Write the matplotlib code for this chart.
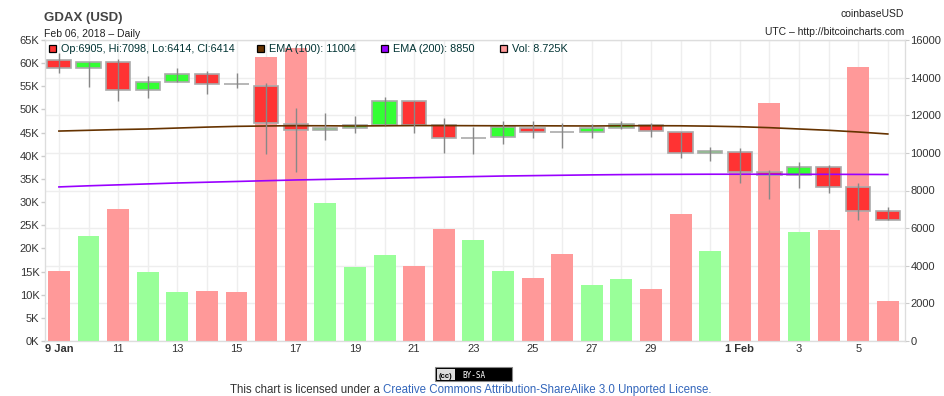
import matplotlib
matplotlib.use("Agg")
import matplotlib.pyplot as plt
from matplotlib.patches import Rectangle
import numpy as np

plt.rcParams['font.family'] = ['Liberation Sans', 'DejaVu Sans']

# ---- data (GDAX BTC/USD daily, 9 Jan - 6 Feb 2018) ----
days = ["9 Jan", "10", "11", "12", "13", "14", "15", "16", "17", "18",
        "19", "20", "21", "22", "23", "24", "25", "26", "27", "28",
        "29", "30", "31", "1 Feb", "2", "3", "4", "5", "6"]
opens = [14940, 14530, 14850, 13330, 13780, 14180, 13660, 13570, 11550, 11200,
         11310, 11500, 12740, 11500, 10800, 10830, 11340, 11100, 11090, 11310,
         11500, 11130, 9980, 10060, 9000, 8825, 9235, 8170, 6905]
highs = [15330, 14850, 14975, 14090, 14530, 14350, 14260, 13700, 12370, 12140,
         11980, 12955, 12760, 11840, 11390, 11710, 11695, 11570, 11520, 11710,
         11605, 11130, 10330, 10245, 9090, 9500, 9355, 8385, 7098]
lows = [14230, 13520, 12775, 12900, 13780, 13115, 13430, 9925, 9000, 10685,
        11040, 11500, 11070, 10010, 9925, 10455, 10810, 10275, 10810, 11255,
        10830, 9710, 9585, 8385, 7535, 8115, 7850, 6430, 6414]
closes = [14530, 14850, 13330, 13780, 14180, 13660, 13640, 11570, 11220, 11310,
          11500, 12740, 11500, 10780, 10815, 11360, 11095, 11090, 11310, 11520,
          11165, 9980, 10085, 9000, 8810, 9235, 8200, 6905, 6414]
volumes = [15.1, 22.7, 28.5, 14.9, 10.6, 10.8, 10.6, 61.3, 63.2, 29.8,
           16.0, 18.6, 16.2, 24.2, 21.8, 15.1, 13.6, 18.8, 12.1, 13.4,
           11.2, 27.4, 19.4, 40.5, 51.3, 23.5, 24.0, 59.2, 8.725]  # thousands
ema100 = [11160, 11200, 11240, 11270, 11320, 11370, 11410, 11430, 11445, 11440,
          11430, 11440, 11450, 11450, 11445, 11440, 11440, 11435, 11430, 11440,
          11445, 11440, 11420, 11390, 11340, 11270, 11200, 11110, 11004]
ema200 = [8190, 8250, 8300, 8350, 8400, 8440, 8480, 8520, 8560, 8590,
          8620, 8650, 8680, 8710, 8740, 8770, 8790, 8810, 8830, 8845,
          8855, 8860, 8865, 8865, 8865, 8860, 8860, 8855, 8850]
labelled = {0: "9 Jan", 2: "11", 4: "13", 6: "15", 8: "17", 10: "19", 12: "21",
            14: "23", 16: "25", 18: "27", 20: "29", 23: "1 Feb", 25: "3", 27: "5"}

W, H = 945, 396
fig = plt.figure(figsize=(W / 100, H / 100), dpi=100)
rect = [45 / W, 55 / H, 860 / W, 301 / H]

x = np.arange(len(days))
up = np.array(closes) >= np.array(opens)

# grid layer (price scale) - also carries the date labels
axg = fig.add_axes(rect)
axg.set_xlim(-0.47, 28.58)
axg.set_ylim(0, 16000)
axg.set_yticks(np.arange(0, 16001, 2000))
axg.set_xticks(x)
axg.set_xticklabels([labelled.get(i, "") for i in x])
axg.grid(True, color='#eeeeee', lw=1)
for i, t in enumerate(axg.get_xticklabels()):
    if i in (0, 23):
        t.set_fontweight('bold')
for s in axg.spines.values():
    s.set_color('#dddddd')

# volume (left axis)
axv = axg.twinx()
axv.set_ylim(0, 65000)
vol_col = ['#99ff99' if u else '#ff9999' for u in up]
axv.bar(x, np.array(volumes) * 1000, width=0.74, color=vol_col, lw=0)
axv.yaxis.tick_left()
axv.set_yticks(np.arange(0, 65001, 5000))
axv.set_yticklabels([f"{v // 1000}K" for v in range(0, 65001, 5000)])
axv.tick_params(axis='y', labelcolor='#333333', color='#cccccc', labelsize=8, length=3, width=1, pad=1)
for s in axv.spines.values():
    s.set_color('#dddddd')

# price (right axis)
axp = axg.twinx()
axp.set_ylim(0, 16000)
axp.set_xlim(-0.47, 28.58)
axp.plot(x, ema100, color='#663300', lw=1.2)
axp.plot(x, ema200, color='#9900ff', lw=1.2)
axp.vlines(x, lows, highs, color='#888888', lw=1)
body_col = ['#33ff33' if u else '#ff3333' for u in up]
axp.bar(x, np.array(closes) - np.array(opens), bottom=opens, width=0.82,
        color=body_col, edgecolor='#aaaaaa', lw=1.2)
axp.set_yticks(np.arange(0, 16001, 2000))
axp.tick_params(axis='y', labelcolor='#333333', color='#cccccc', labelsize=8, length=3, pad=1)
for s in axp.spines.values():
    s.set_color('#dddddd')

# twinx turns the grid layer's left ticks back on, so switch them off here
axg.tick_params(axis='y', left=False, right=False, labelleft=False, labelright=False)
axg.tick_params(axis='x', length=0, labelsize=8, labelcolor='#333333', pad=2)

# header texts
fig.text(44 / W, 1 - 20.5 / H, "GDAX (USD)", fontsize=9.5, fontweight='bold', color='#444444')
fig.text(44 / W, 1 - 36.7 / H, "Feb 06, 2018 \u2013 Daily", fontsize=7.5, color='#222222')
fig.text(904 / W, 1 - 17.3 / H, "coinbaseUSD", fontsize=7.5, color='#222222', ha='right')
fig.text(904 / W, 1 - 35 / H, "UTC \u2013 http://bitcoincharts.com", fontsize=7.5,
         color='#222222', ha='right')

# legend row
leg = [(49, '#ff3333', "Op:6905, Hi:7098, Lo:6414, Cl:6414"),
       (257, '#663300', "EMA (100): 11004"),
       (381, '#9900ff', "EMA (200): 8850"),
       (500, '#ff9999', "Vol: 8.725K")]
for lx, c, txt in leg:
    fig.patches.append(Rectangle((lx / W, 1 - 51.7 / H), 7 / W, 7 / H, transform=fig.transFigure,
                                 facecolor=c, edgecolor='black', lw=0.9))
    fig.text((lx + 12) / W, 1 - 51.7 / H, txt, fontsize=7.8, color='#003333')

# licence footer
fig.patches.append(Rectangle((435 / W, 1 - 381 / H), 77 / W, 14 / H, transform=fig.transFigure,
                             facecolor='black', edgecolor='#888888', lw=0.8))
fig.patches.append(Rectangle((437 / W, 1 - 379.5 / H), 18 / W, 11 / H, transform=fig.transFigure,
                             facecolor='#dddddd', edgecolor='none'))
fig.text(446 / W, 1 - 377.5 / H, "(cc)", fontsize=5.5, fontweight='bold', color='black', ha='center')
fig.text(462 / W, 1 - 377.5 / H, "BY-SA", fontsize=5.5, color='white', family='DejaVu Sans Mono')
fig.text(380 / W, 1 - 393 / H, "This chart is licensed under a", fontsize=8.3, color='#333333', ha='right')
fig.text(383 / W, 1 - 393 / H, "Creative Commons Attribution-ShareAlike 3.0 Unported License.",
         fontsize=8.3, color='#3366bb')

fig.savefig("out.png", dpi=100)
